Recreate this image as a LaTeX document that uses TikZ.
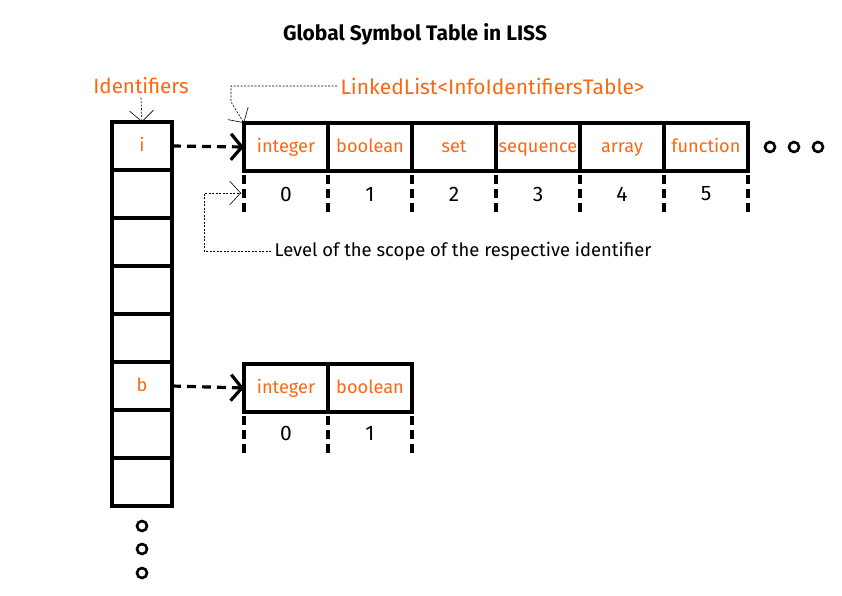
\documentclass[tikz,border=0pt]{standalone}
\usepackage{fontspec}
\setmainfont{Fira Sans}
\usetikzlibrary{arrows.meta}
\definecolor{liss}{RGB}{255,102,17}

\tikzset{
  slot/.style={draw, line width=3.2pt, minimum width=84pt, minimum height=48pt,
    inner sep=0pt, outer sep=0pt, text=liss, text height=14pt, text depth=3pt,
    font=\fontsize{18.2}{21}\selectfont},
  idslot/.style={slot, minimum width=60pt},
  lvl/.style={font=\fontsize{21}{24}\selectfont},
  sep/.style={line width=3.2pt, dash pattern=on 9pt off 5pt},
  ptr/.style={line width=3.2pt, dash pattern=on 9pt off 6pt,
    -{Straight Barb[length=11pt,width=26pt]}},
  note/.style={line width=0.6pt, dash pattern=on 2pt off 1.5pt,
    -{Straight Barb[length=11pt,width=24pt]}},
  dots/.style={line width=2.6pt}
}

\begin{document}
\begin{tikzpicture}[x=1pt,y=-1pt]
  \useasboundingbox (0,0) rectangle (842,596);
  \node[font=\bfseries\fontsize{21}{24}\selectfont] (title) at (415,34) {Global Symbol Table in LISS};
  \node[text=liss, font=\fontsize{20.6}{23}\selectfont] (ids) at (141,86) {Identifiers};
  \node[text=liss, font=\fontsize{21}{23}\selectfont, anchor=west] (llist) at (337,86) {LinkedList<InfoIdentifiersTable>};
  % identifiers column
  \node[idslot] (c1) at (142,146) {i};
  \node[idslot] (c2) at (142,194) {};
  \node[idslot] (c3) at (142,242) {};
  \node[idslot] (c4) at (142,290) {};
  \node[idslot] (c5) at (142,338) {};
  \node[idslot] (c6) at (142,386) {b};
  \node[idslot] (c7) at (142,434) {};
  \node[idslot] (c8) at (142,482) {};
  \draw[dots] (142,526) circle (5);
  \draw[dots] (142,549) circle (5);
  \draw[dots] (142,573) circle (5);
  % list of i
  \node[slot] (t0) at (286,147) {integer};
  \node[slot] (t1) at (370,147) {boolean};
  \node[slot] (t2) at (454,147) {set};
  \node[slot] (t3) at (538,147) {sequence};
  \node[slot] (t4) at (622,147) {array};
  \node[slot] (t5) at (706,147) {function};
  \node[lvl] (n0) at (286,194) {0};
  \node[lvl] (n1) at (370,194) {1};
  \node[lvl] (n2) at (454,194) {2};
  \node[lvl] (n3) at (538,194) {3};
  \node[lvl] (n4) at (622,194) {4};
  \node[lvl] (n5) at (706,194) {5};
  \draw[sep] ([yshift=-4pt]t0.south west) -- ++(0,38);
  \draw[sep] ([yshift=-4pt]t1.south west) -- ++(0,38);
  \draw[sep] ([yshift=-4pt]t2.south west) -- ++(0,38);
  \draw[sep] ([yshift=-4pt]t3.south west) -- ++(0,38);
  \draw[sep] ([yshift=-4pt]t4.south west) -- ++(0,38);
  \draw[sep] ([yshift=-4pt]t5.south west) -- ++(0,38);
  \draw[sep] ([yshift=-4pt]t5.south east) -- ++(0,38);
  \draw[dots] (770,147) circle (5);
  \draw[dots] (794,147) circle (5);
  \draw[dots] (818,147) circle (5);
  % list of b
  \node[slot] (b0) at (286,388) {integer};
  \node[slot] (b1) at (370,388) {boolean};
  \node[lvl] (m0) at (286,433) {0};
  \node[lvl] (m1) at (370,433) {1};
  \draw[sep] ([yshift=-4pt]b0.south west) -- ++(0,38);
  \draw[sep] ([yshift=-4pt]b1.south west) -- ++(0,38);
  \draw[sep] ([yshift=-4pt]b1.south east) -- ++(0,38);
  % pointers
  \draw[ptr] (c1.east) -- (t0.west);
  \draw[ptr] (c6.east) -- (b0.west);
  % notes
  \node[anchor=west, font=\fontsize{18.4}{21}\selectfont] (level) at (271,251) {Level of the scope of the respective identifier};
  \coordinate (bend) at (231,102);
  \coordinate (lvltip) at (241,193);
  \draw[note] (ids.south) -- (c1.north);
  \draw[note] (llist.west) -| (bend) -- (t0.north west);
  \draw[note] (level.west) -| (204,193) -- (lvltip);
\end{tikzpicture}
\end{document}
